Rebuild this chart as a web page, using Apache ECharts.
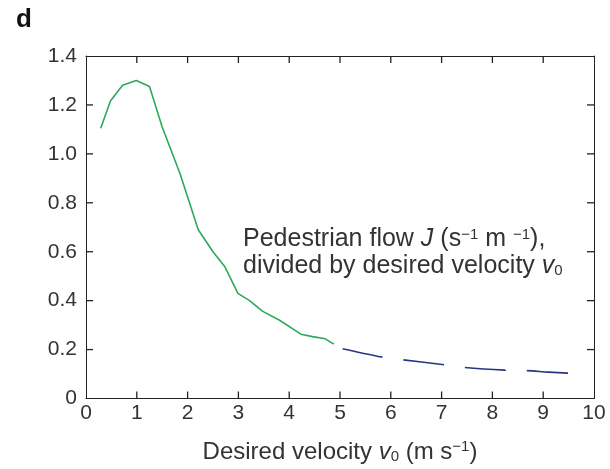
<!DOCTYPE html>
<html><head><meta charset="utf-8">
<script src="https://cdn.jsdelivr.net/npm/echarts@6/dist/echarts.min.js"></script>
<style>html,body{margin:0;padding:0;background:#fff}#c{width:610px;height:469px}</style>
</head><body><div id="c"></div>
<script>
const simX = [0.29,0.48,0.72,0.99,1.25,1.5,1.85,2.21,2.5,2.73,2.99,3.22,3.48,3.81,4.23,4.46,4.71,4.88];
const simY = [1.105,1.216,1.28,1.30,1.275,1.11,0.92,0.69,0.60,0.54,0.43,0.40,0.356,0.32,0.263,0.253,0.244,0.222];
const extX = [5.05,5.75,6.2,7.01,7.4,8.24,8.66,9.1,9.55];
const extY = [0.203,0.172,0.159,0.139,0.128,0.116,0.114,0.108,0.103];
const xTicks = [0,1,2,3,4,5,6,7,8,9,10];
const yTicks = [0,0.2,0.4,0.6,0.8,1.0,1.2,1.4];

const font = 'Liberation Sans, Arial, sans-serif';
const chart = echarts.init(document.getElementById('c'));
const pairs = (xs, ys) => xs.map((x, i) => [x, ys[i]]);
const xMin = xTicks[0], xMax = xTicks[xTicks.length - 1];
const yMin = yTicks[0], yMax = yTicks[yTicks.length - 1];
const innerX = xTicks.slice(1, -1), innerY = yTicks.slice(1, -1);
const line = () => ({show: true, onZero: false, lineStyle: {color: '#222', width: 1}});
const tickSeries = (data, size, offset) => ({
  type: 'scatter', data, symbol: 'rect', symbolSize: size, symbolOffset: offset,
  itemStyle: {color: '#222', opacity: 1}, silent: true, clip: false, z: 5,
  emphasis: {disabled: true}
});
chart.setOption({
  animation: false,
  tooltip: {show: false},
  grid: {left: 86, right: 16, top: 56, bottom: 69},
  graphic: [
    {type: 'text', left: 16, top: 7, style: {text: 'd', font: 'bold 26px ' + font, fill: '#111'}},
    {type: 'text', left: 243, top: 227, style: {
      text: '{t|Pedestrian flow }{i|J}{t| (s}{sup|−1}{t| m }{sup|−1}{t|),}\n{t|divided by desired velocity }{i|v}{sub|0}',
      rich: {
        t: {font: '25px ' + font, fill: '#333', lineHeight: 27},
        i: {font: 'italic 25px ' + font, fill: '#333', lineHeight: 27},
        sup: {font: '15px ' + font, fill: '#333', lineHeight: 27, padding: [0,0,10,0]},
        sub: {font: '15px ' + font, fill: '#333', lineHeight: 27, padding: [9,0,0,0]}
      }
    }}
  ],
  xAxis: [{
    type: 'value', min: xMin, max: xMax, interval: 1,
    axisLine: line(), axisTick: {show: false}, splitLine: {show: false},
    axisLabel: {fontSize: 21, fontFamily: font, color: '#333', margin: 4},
    name: '{t|Desired velocity }{i|v}{sub|0}{t| (m s}{sup|−1}{t|)}',
    nameLocation: 'middle', nameGap: 41,
    nameTextStyle: {rich: {
      t: {fontSize: 24, fontFamily: font, color: '#333'},
      i: {fontSize: 24, fontFamily: font, fontStyle: 'italic', color: '#333'},
      sub: {fontSize: 15, fontFamily: font, color: '#333', padding: [9,0,0,0]},
      sup: {fontSize: 15, fontFamily: font, color: '#333', padding: [0,0,10,0]}
    }}
  }, {
    type: 'value', position: 'top', min: xMin, max: xMax, interval: 1,
    axisLine: line(), axisTick: {show: false}, axisLabel: {show: false}, splitLine: {show: false}
  }],
  yAxis: [{
    type: 'value', min: yMin, max: yMax, interval: 0.2,
    axisLine: line(), axisTick: {show: false}, splitLine: {show: false},
    axisLabel: {fontSize: 21, fontFamily: font, color: '#333', margin: 9,
      formatter: v => v === 0 ? '0' : v.toFixed(1)}
  }, {
    type: 'value', position: 'right', min: yMin, max: yMax, interval: 0.2,
    axisLine: line(), axisTick: {show: false}, axisLabel: {show: false}, splitLine: {show: false}
  }],
  series: [{
    type: 'line', data: pairs(simX, simY), symbol: 'none',
    lineStyle: {color: '#2ea85a', width: 1.6}
  }, {
    type: 'line', data: pairs(extX, extY), symbol: 'none', smooth: 0.3,
    lineStyle: {color: '#2a3580', width: 1.6, type: [41, 21]}
  },
  tickSeries(innerX.map(x => [x, yMin]), [1.3, 7], [0, -3.5]),
  tickSeries(innerX.map(x => [x, yMax]), [1.3, 7], [0, 3.5]),
  tickSeries(innerY.map(y => [xMin, y]), [7, 1.3], [3.5, 0]),
  tickSeries(innerY.map(y => [xMax, y]), [7, 1.3], [-3.5, 0])
  ]
});
</script></body></html>
